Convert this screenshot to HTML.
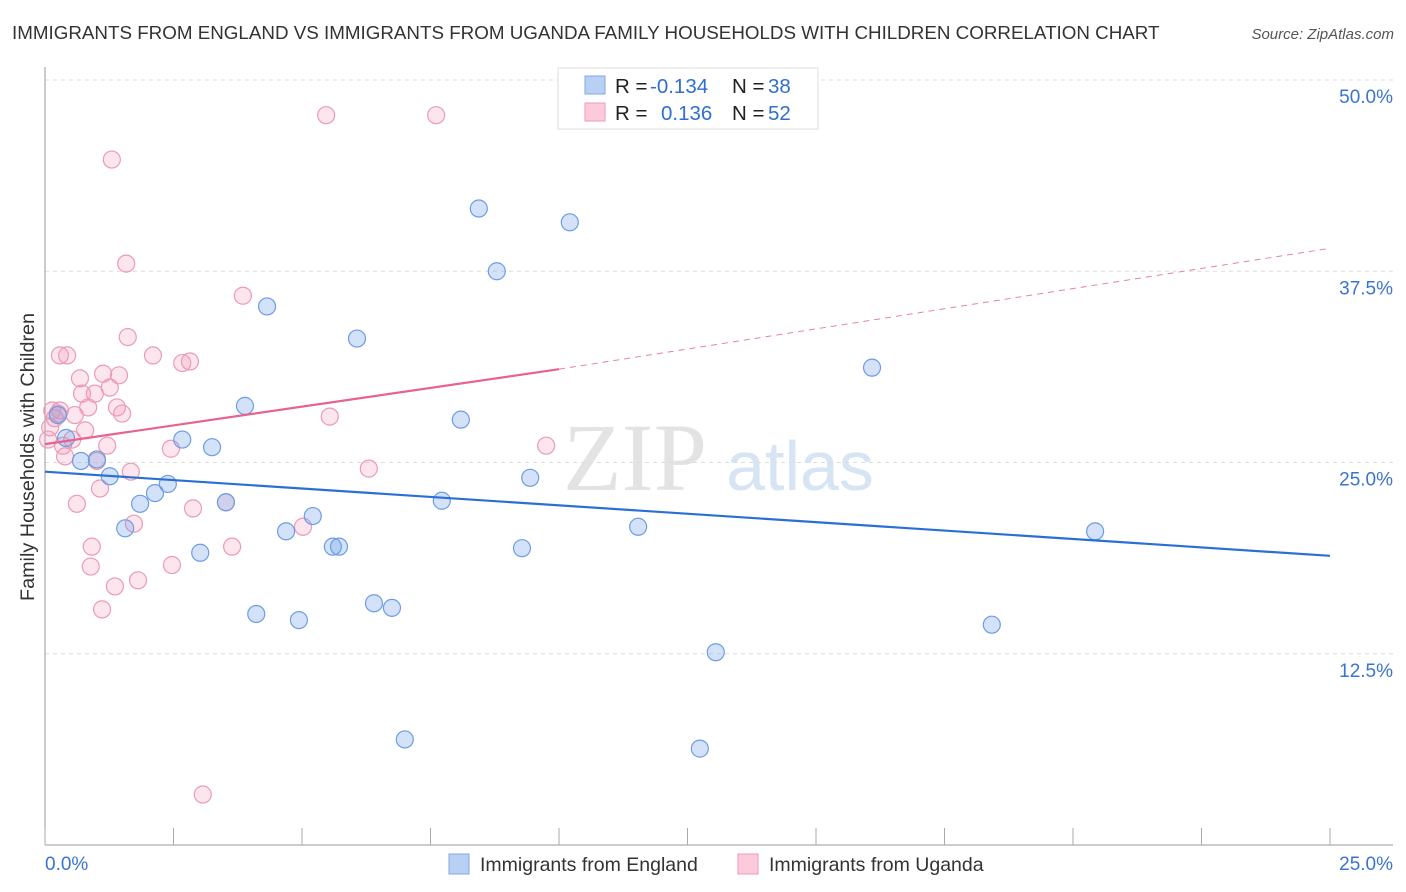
<!DOCTYPE html>
<html><head><meta charset="utf-8"><style>
body{margin:0;background:#fff;font-family:"Liberation Sans",sans-serif;}
#wrap{position:relative;width:1406px;height:892px;overflow:hidden;}
</style></head><body>
<div id="wrap">
<svg id="svg" width="1406" height="892" xmlns="http://www.w3.org/2000/svg">
<text x="12" y="39" font-size="18.8" fill="#333">IMMIGRANTS FROM ENGLAND VS IMMIGRANTS FROM UGANDA FAMILY HOUSEHOLDS WITH CHILDREN CORRELATION CHART</text>
<text x="1394" y="39" font-size="15" fill="#555" font-style="italic" text-anchor="end">Source: ZipAtlas.com</text>
<text transform="translate(34,457) rotate(-90)" font-size="19.8" fill="#333" text-anchor="middle">Family Households with Children</text>
<g><text x="635" y="490" font-family="Liberation Serif" font-size="96" fill="#e3e3e3" text-anchor="middle">ZIP</text><text x="800" y="490" font-size="70" fill="#d6e4f4" text-anchor="middle">atlas</text></g>
<g id="grid"></g><g id="axes"></g><g id="pts"></g><g id="trend"></g>
<g>
<rect x="558" y="68" width="260" height="61" fill="#fff" stroke="#ddd"/>
<rect x="585" y="76" width="20" height="18" fill="#b7d0f3" stroke="#80a8e6"/>
<rect x="585" y="103" width="20" height="18" fill="#fccada" stroke="#ef9ab5"/>
<text x="615" y="93" font-size="20.5" fill="#222">R = </text><text x="650" y="93" font-size="20.5" fill="#2f6fd0">-0.134</text>
<text x="732" y="93" font-size="20.5" fill="#222">N = </text><text x="768" y="93" font-size="20.5" fill="#2f6fd0">38</text>
<text x="615" y="120" font-size="20.5" fill="#222">R = </text><text x="661" y="120" font-size="20.5" fill="#2f6fd0">0.136</text>
<text x="732" y="120" font-size="20.5" fill="#222">N = </text><text x="768" y="120" font-size="20.5" fill="#2f6fd0">52</text>
</g>
<g>
<rect x="449" y="854" width="20" height="20" fill="#b7d0f3" stroke="#80a8e6"/>
<text x="480" y="871" font-size="19.5" fill="#333">Immigrants from England</text>
<rect x="738" y="854" width="20" height="20" fill="#fccada" stroke="#ef9ab5"/>
<text x="769" y="871" font-size="19.5" fill="#333">Immigrants from Uganda</text>
</g>
</svg></div>
<script>
const yTicks=[12.5,25,37.5,50];
const yTickLabels=["12.5%","25.0%","37.5%","50.0%"];
const xTicks=[0,2.5,5,7.5,10,12.5,15,17.5,20,22.5,25];
const engX=[0.25,0.41,0.70,1.01,1.26,1.56,1.85,2.14,2.39,2.67,3.02,3.25,3.52,3.89,4.11,4.32,4.69,4.94,5.21,5.60,5.72,6.07,6.40,6.75,7.00,7.72,8.09,8.44,8.79,9.28,9.44,10.21,11.54,12.74,13.05,16.09,18.42,20.43];
const engY=[28.1,26.6,25.1,25.2,24.1,20.7,22.3,23.0,23.6,26.5,19.1,26.0,22.4,28.7,15.1,35.2,20.5,14.7,21.5,19.5,19.5,33.1,15.8,15.5,6.9,22.5,27.8,41.6,37.5,19.4,24.0,40.7,20.8,6.3,12.6,31.2,14.4,20.5];
const ugaX=[0.06,0.14,0.19,0.29,0.29,0.43,0.39,0.53,0.62,0.58,0.68,0.72,0.78,0.84,0.91,0.89,0.97,1.01,1.07,1.11,1.13,1.21,1.26,1.30,1.40,1.44,1.50,1.58,1.61,1.67,1.73,1.81,1.36,2.10,2.45,2.47,2.67,2.82,2.88,3.07,3.52,3.64,3.85,5.02,5.47,5.54,6.30,7.61,9.75,0.25,0.10,0.35];
const ugaY=[26.5,28.4,27.9,28.4,32.0,32.0,25.4,26.5,22.3,28.1,30.5,29.5,27.1,28.6,19.5,18.2,29.5,25.1,23.3,15.4,30.8,26.1,29.9,44.8,28.6,30.7,28.2,38.0,33.2,24.4,21.0,17.3,16.9,32.0,25.9,18.3,31.5,31.6,22.0,3.3,22.4,19.5,35.9,20.8,47.7,28.0,24.6,47.7,26.1,28.2,27.3,26.1];
const engTrend=[24.4,18.9];      // y at x=0 and x=25
const ugaTrend=[26.2,31.1,39.0]; // y at x=0, x=10 (solid end), x=25
const ugaSolidEnd=10;
const NS="http://www.w3.org/2000/svg";
const xs=v=>45+v*51.4, ys=v=>845-v*15.3;
function mk(t,a,p){const e=document.createElementNS(NS,t);for(const k in a)e.setAttribute(k,a[k]);p.appendChild(e);return e;}
const grid=document.getElementById('grid'),axes=document.getElementById('axes'),pts=document.getElementById('pts'),tr=document.getElementById('trend');
yTicks.forEach((v,i)=>{
 const l=mk('line',{x1:45,x2:1393,y1:ys(v),y2:ys(v),stroke:'#ddd','stroke-dasharray':'4,4'},grid);
 
 
 const t=mk('text',{x:1393,y:ys(v)+23,'font-size':19,fill:'#3b74d0','text-anchor':'end'},axes);
 t.textContent=yTickLabels[i];
 
 
});
const ya=mk('line',{x1:45,x2:45,y1:67,y2:845,stroke:'#999'},axes);


const xa=mk('line',{x1:45,x2:1393,y1:845,y2:845,stroke:'#999'},axes);


xTicks.forEach(v=>{const l=mk('line',{x1:xs(v),x2:xs(v),y1:828,y2:845,stroke:'#aaa'},axes);
 
 });
const x0=mk('text',{x:45,y:870,'font-size':19,fill:'#3b74d0'},axes);x0.textContent='0.0%';


const x1=mk('text',{x:1393,y:870,'font-size':19,fill:'#3b74d0','text-anchor':'end'},axes);x1.textContent='25.0%';


ugaX.forEach((v,i)=>{const c=mk('circle',{cx:xs(v),cy:ys(ugaY[i]),r:8.5,fill:'rgba(245,150,180,0.25)',stroke:'#ec9ab6','stroke-width':1.2},pts);
 
 });
engX.forEach((v,i)=>{const c=mk('circle',{cx:xs(v),cy:ys(engY[i]),r:8.5,fill:'rgba(110,160,235,0.3)',stroke:'#6c9de3','stroke-width':1.2},pts);
 
 });
const bt=mk('line',{x1:xs(0),y1:ys(engTrend[0]),x2:xs(25),y2:ys(engTrend[1]),stroke:'#2a6fd6','stroke-width':2.2},tr);


const pt=mk('line',{x1:xs(0),y1:ys(ugaTrend[0]),x2:xs(ugaSolidEnd),y2:ys(ugaTrend[1]),stroke:'#e8628e','stroke-width':2.2},tr);


const pd=mk('line',{x1:xs(ugaSolidEnd),y1:ys(ugaTrend[1]),x2:xs(25),y2:ys(ugaTrend[2]),stroke:'#e8829f','stroke-width':1,'stroke-dasharray':'6,5'},tr);


</script>
</body></html>
